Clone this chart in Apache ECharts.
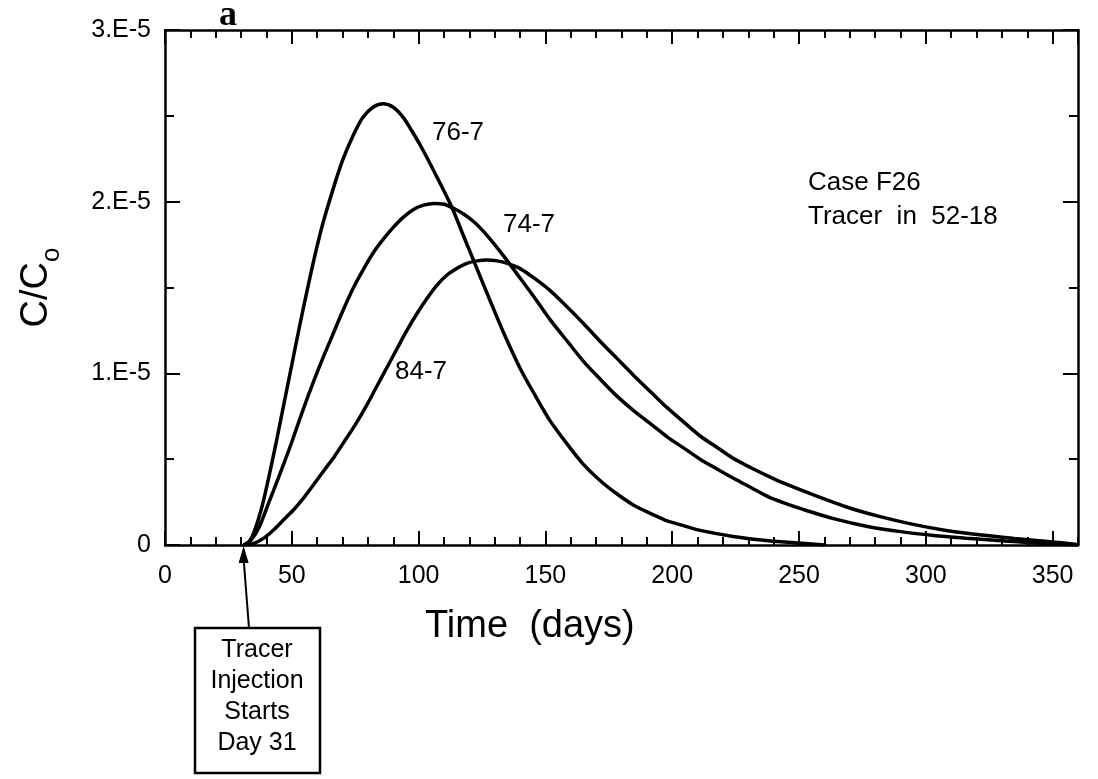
<!DOCTYPE html>
<html>
<head>
<meta charset="utf-8">
<script src="https://cdn.jsdelivr.net/npm/echarts@6/dist/echarts.min.js"></script>
<style>
  html, body { margin: 0; padding: 0; background: #fff; }
  #chart { width: 1098px; height: 779px; }
</style>
</head>
<body>
<div id="chart"></div>
<script>
// 数据 (C/Co, 单位 1.E-5)，横轴为天数
const curve767 = [[31,0],[33,0.015],[35,0.07],[38,0.21],[41,0.40],[44,0.61],[47,0.83],[50,1.05],[53,1.27],[56,1.48],[59,1.68],[62,1.86],[66,2.06],[70,2.24],[74,2.38],[78,2.49],[82,2.55],[86,2.57],[90,2.55],[94,2.49],[97,2.42],[101,2.32],[107,2.15],[113,1.97],[118,1.79],[123,1.61],[128,1.43],[134,1.22],[140,1.03],[146,0.87],[152,0.72],[159,0.58],[165,0.47],[172,0.37],[178,0.30],[185,0.23],[192,0.18],[198,0.14],[205,0.11],[211,0.085],[224,0.05],[238,0.025],[251,0.01],[260,0]];
const curve747 = [[31,0],[34,0.03],[37,0.10],[41,0.25],[46,0.44],[50,0.60],[54,0.77],[58,0.93],[62,1.08],[66,1.22],[70,1.36],[74,1.49],[78,1.60],[82,1.70],[86,1.78],[90,1.85],[94,1.91],[98,1.955],[102,1.98],[106,1.99],[110,1.985],[114,1.96],[118,1.925],[122,1.88],[126,1.82],[130,1.75],[135,1.655],[140,1.555],[146,1.435],[152,1.31],[159,1.18],[165,1.07],[172,0.96],[178,0.87],[185,0.78],[192,0.70],[198,0.63],[205,0.56],[211,0.50],[218,0.44],[224,0.39],[231,0.335],[238,0.28],[244,0.245],[251,0.21],[264,0.152],[277,0.108],[290,0.078],[303,0.056],[316,0.04],[330,0.025],[343,0.012],[358,0.002],[360,0]];
const curve847 = [[31,0],[35,0.01],[39,0.04],[43,0.09],[47,0.15],[51,0.21],[55,0.28],[59,0.36],[63,0.44],[67,0.52],[71,0.61],[75,0.70],[79,0.80],[83,0.91],[87,1.02],[91,1.13],[95,1.24],[99,1.34],[103,1.43],[107,1.51],[111,1.57],[115,1.61],[119,1.64],[123,1.655],[127,1.66],[131,1.655],[135,1.64],[140,1.61],[146,1.55],[152,1.48],[159,1.38],[165,1.29],[172,1.18],[178,1.09],[185,0.985],[192,0.885],[198,0.80],[205,0.71],[211,0.635],[218,0.565],[224,0.505],[231,0.45],[238,0.40],[244,0.36],[256,0.29],[269,0.22],[282,0.165],[295,0.12],[308,0.085],[322,0.058],[335,0.038],[348,0.02],[358,0.006],[360,0]];
const seriesNames = ['76-7', '74-7', '84-7'];
const injectionDay = 31;

const FONT = '"Liberation Sans", Arial, sans-serif';
const chart = echarts.init(document.getElementById('chart'));

// x 轴：主刻度 50 天，次刻度 10 天（用两条重叠的轴画出）
function xAxisDef(pos, major) {
  return {
    type: 'value', position: pos, min: 0, max: 360,
    interval: major ? 50 : 10,
    axisLine: { show: major, onZero: false, lineStyle: { color: '#000', width: 2.5 } },
    axisTick: { show: true, inside: true, length: major ? 14 : 8, lineStyle: { color: '#000', width: 2 } },
    axisLabel: {
      show: major && pos === 'bottom', showMaxLabel: false,
      color: '#000', fontFamily: FONT, fontSize: 25, margin: 19
    },
    splitLine: { show: false }
  };
}
function yAxisDef(pos) {
  return {
    type: 'value', position: pos, min: 0, max: 3, interval: 1,
    axisLine: { show: true, onZero: false, lineStyle: { color: '#000', width: 2.5 } },
    axisTick: { show: true, inside: true, length: 15, lineStyle: { color: '#000', width: 2 } },
    minorTick: { show: true, splitNumber: 2, length: 9, lineStyle: { color: '#000', width: 2 } },
    axisLabel: {
      show: pos === 'left', color: '#000', fontFamily: FONT, fontSize: 25, margin: 14,
      formatter: v => v === 0 ? '0' : v + '.E-5'
    },
    splitLine: { show: false },
    name: pos === 'left' ? '{a|C/C}{b|o}' : '',
    nameLocation: 'middle', nameRotate: 90, nameGap: 100,
    nameTextStyle: {
      rich: {
        a: { fontFamily: FONT, fontSize: 38, color: '#000', lineHeight: 56, verticalAlign: 'middle' },
        b: { fontFamily: FONT, fontSize: 26, color: '#000', lineHeight: 56, verticalAlign: 'bottom' }
      }
    }
  };
}

const curves = [curve767, curve747, curve847];

chart.setOption({
  animation: false,
  grid: { left: 165, right: 20, top: 30, bottom: 234 },
  xAxis: [xAxisDef('bottom', true), xAxisDef('bottom', false), xAxisDef('top', true), xAxisDef('top', false)],
  yAxis: [yAxisDef('left'), yAxisDef('right')],
  series: curves.map((d, i) => ({
    name: seriesNames[i], type: 'line', data: d, xAxisIndex: 0, yAxisIndex: 0,
    showSymbol: false, smooth: 0.3,
    lineStyle: { color: '#000', width: 3.5 }
  }))
});

// 注释：曲线名、说明文字、注入箭头和方框
const tipX = chart.convertToPixel({ xAxisIndex: 0 }, injectionDay);
const axisY = chart.convertToPixel({ yAxisIndex: 0 }, 0);
const txt = (text, x, y, size, extra) => ({
  type: 'text', x: x, y: y,
  style: Object.assign({ text: text, fill: '#000', font: size + 'px ' + FONT }, extra || {})
});
chart.setOption({
  graphic: [
    txt('a', 219, -2, 36, { font: 'bold 36px "Liberation Serif", "DejaVu Serif", serif' }),
    txt(seriesNames[0], 432, 120, 26),
    txt(seriesNames[1], 503, 212, 26),
    txt(seriesNames[2], 395, 359, 26),
    txt('Case F26', 808, 170, 26),
    txt('Tracer  in  52-18', 808, 204, 26),
    txt('Time  (days)', 425, 608, 38),
    {
      type: 'line',
      shape: { x1: 249, y1: 628, x2: tipX, y2: axisY + 14 },
      style: { stroke: '#000', lineWidth: 2 }
    },
    {
      type: 'polygon',
      shape: { points: [[tipX, axisY + 1], [tipX - 5, axisY + 18], [tipX + 5, axisY + 18]] },
      style: { fill: '#000' }
    },
    {
      type: 'rect',
      shape: { x: 195, y: 628, width: 125, height: 145 },
      style: { fill: '#fff', stroke: '#000', lineWidth: 2.5 }
    },
    txt('Tracer', 257, 638, 25, { textAlign: 'center' }),
    txt('Injection', 257, 669, 25, { textAlign: 'center' }),
    txt('Starts', 257, 700, 25, { textAlign: 'center' }),
    txt('Day 31', 257, 731, 25, { textAlign: 'center' })
  ]
});
</script>
</body>
</html>
